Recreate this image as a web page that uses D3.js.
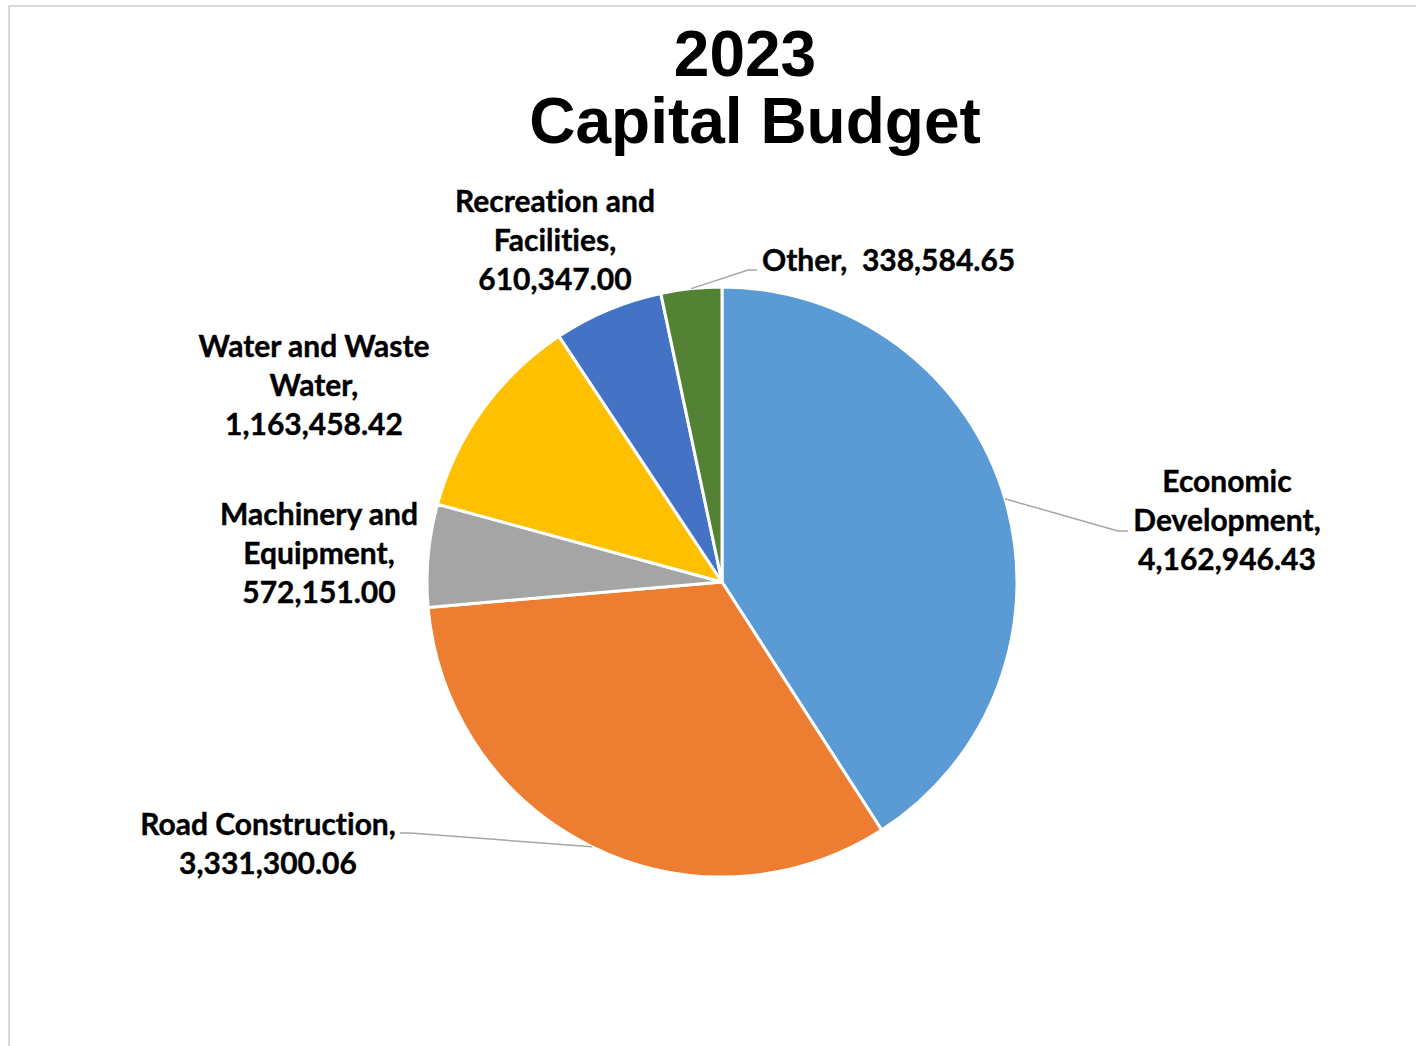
<!DOCTYPE html>
<html>
<head>
<meta charset="utf-8">
<script src="https://cdn.jsdelivr.net/npm/d3@7"></script>
<style>
  html, body { margin: 0; padding: 0; background: #fff; }
  svg { display: block; }
  .lbl { font-family: Lato, "Open Sans", sans-serif; font-weight: 700; font-size: 30px; fill: #000;
         stroke: #000; stroke-width: 0.4px; white-space: pre; font-variant-ligatures: none; }
  .ttl { font-family: "Liberation Sans", Arial, sans-serif; font-weight: 700; font-size: 64px; fill: #000; }
</style>
</head>
<body>
<svg id="chart" width="1416" height="1046"></svg>
<script>
// Capital budget categories and amounts (in order, clockwise from 12 o'clock)
const categories = [
  "Economic Development",
  "Road Construction",
  "Machinery and Equipment",
  "Water and Waste Water",
  "Recreation and Facilities",
  "Other"
];
const amounts = [4162946.43, 3331300.06, 572151.00, 1163458.42, 610347.00, 338584.65];
const colors = ["#5B9BD5", "#ED7D31", "#A5A5A5", "#FFC000", "#4472C4", "#548235"];
const titleLines = ["2023", "Capital Budget"];

// Label text lines: category lines, then the formatted amount appended
const labelLines = [
  ["Economic", "Development,"],
  ["Road Construction,"],
  ["Machinery and", "Equipment,"],
  ["Water and Waste", "Water,"],
  ["Recreation and", "Facilities,"],
  ["Other,  "]
];

const W = 1416, H = 1046;
const cx = 722, cy = 582, R = 295;
const lineH = 39;

// Label placement: anchor point, alignment, and optional leader elbow
const layout = [
  { x: 1227, y: 492, anchor: "middle", leader: [[1118, 531], [1128, 531]] },
  { x: 268, y: 835, anchor: "middle", leader: [[410, 833], [400, 833]] },
  { x: 319, y: 525, anchor: "middle" },
  { x: 314, y: 357, anchor: "middle" },
  { x: 555, y: 212, anchor: "middle" },
  { x: 762, y: 271, anchor: "start", inline: true, leader: [[748, 270], [757, 270]] }
];

const fmt = d3.format(",.2f");
const svg = d3.select("#chart");

// Chart area frame (top and left edges visible)
svg.append("line").attr("x1", 8).attr("x2", W).attr("y1", 6).attr("y2", 6)
  .attr("stroke", "#d9d9d9").attr("stroke-width", 2);
svg.append("line").attr("x1", 9).attr("x2", 9).attr("y1", 6).attr("y2", H)
  .attr("stroke", "#d9d9d9").attr("stroke-width", 2);

// Title
svg.append("text").attr("class", "ttl").attr("x", 745).attr("y", 76)
  .attr("text-anchor", "middle").text(titleLines[0]);
svg.append("text").attr("class", "ttl").attr("x", 755).attr("y", 143)
  .attr("text-anchor", "middle").text(titleLines[1]);

const data = categories.map((c, i) => ({ name: c, value: amounts[i], color: colors[i], i }));

const pie = d3.pie().sort(null).value(d => d.value).startAngle(0).endAngle(2 * Math.PI);
const arcs = pie(data);
const arc = d3.arc().innerRadius(0).outerRadius(R);

const g = svg.append("g").attr("transform", `translate(${cx},${cy})`);

g.selectAll("path.slice")
  .data(arcs)
  .join("path")
  .attr("class", "slice")
  .attr("d", arc)
  .attr("fill", d => d.data.color)
  .attr("stroke", "#fff")
  .attr("stroke-width", 3)
  .attr("stroke-linejoin", "round");

// Leader lines from the slice edge at its mid-angle to the label
arcs.forEach(a => {
  const L = layout[a.data.i];
  if (!L.leader) return;
  const mid = (a.startAngle + a.endAngle) / 2;
  const sx = cx + R * Math.sin(mid);
  const sy = cy - R * Math.cos(mid);
  const pts = [[sx, sy]].concat(L.leader);
  svg.append("path")
    .attr("d", d3.line()(pts))
    .attr("fill", "none")
    .attr("stroke", "#a6a6a6")
    .attr("stroke-width", 1.5);
});

// Data labels
arcs.forEach(a => {
  const i = a.data.i;
  const L = layout[i];
  const t = svg.append("text").attr("class", "lbl")
    .attr("x", L.x).attr("y", L.y).attr("text-anchor", L.anchor);
  if (L.inline) {
    t.text(labelLines[i][0] + fmt(a.data.value));
  } else {
    const lines = labelLines[i].concat([fmt(a.data.value)]);
    lines.forEach((ln, k) => {
      t.append("tspan").attr("x", L.x).attr("y", L.y + k * lineH).text(ln);
    });
  }
});
</script>
</body>
</html>
